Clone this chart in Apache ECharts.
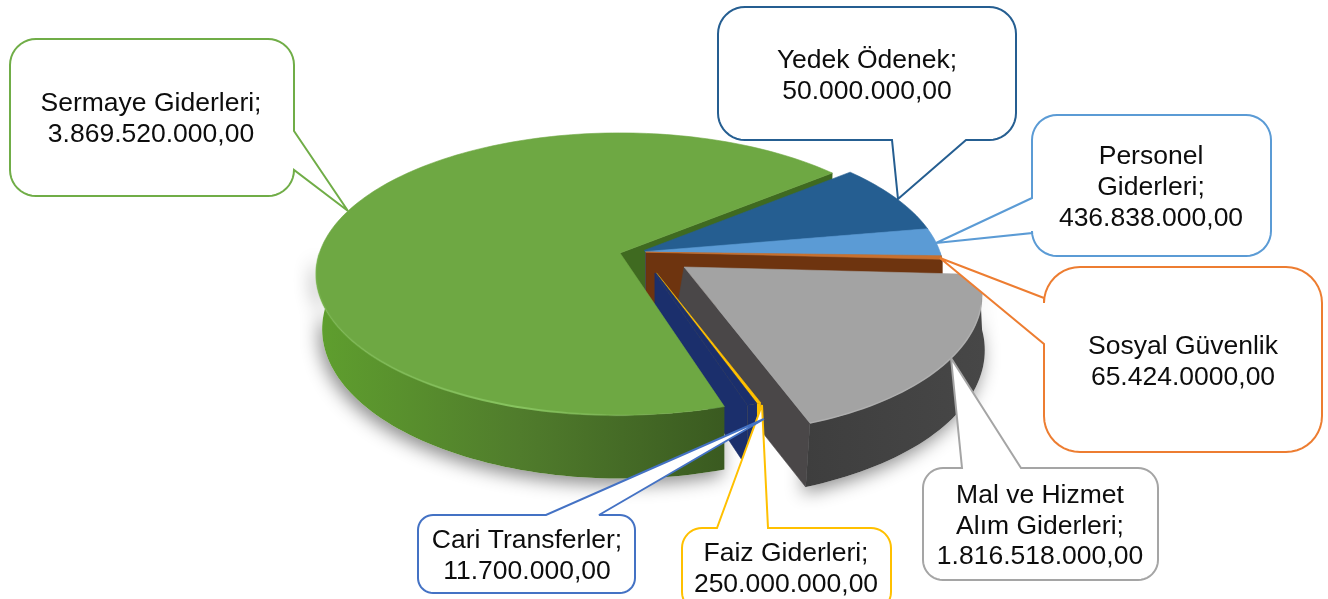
<!DOCTYPE html>
<html>
<head>
<meta charset="utf-8">
<style>html,body{margin:0;padding:0;background:#fff}#c{width:1328px;height:599px}</style>
<script src="https://cdn.jsdelivr.net/npm/echarts@6/dist/echarts.min.js"></script>
</head>
<body>
<div id="c"></div>
<script>
// Slices in clockwise drawing order
const categories = ['Yedek Ödenek','Personel Giderleri','Sosyal Güvenlik','Mal ve Hizmet Alım Giderleri','Faiz Giderleri','Cari Transferler','Sermaye Giderleri'];
// Share of the pie (%)
const sliceShares = [8.17, 3.19, 0.42, 18.69, 0.19, 0.47, 68.87];
// Amounts as printed in the callouts
const printedValues = ['50.000.000,00','436.838.000,00','65.424.0000,00','1.816.518.000,00','250.000.000,00','11.700.000,00','3.869.520.000,00'];

const topColors  = ['#255e91','#5b9bd5','#c8702e','#a3a3a3','#ffc000','#1b2f6c','#6ea843'];
const faceColors = ['#1d4a72','#3f78ad','#6e340f','#4a4748','#ffc000','#1b2f6c','#3f6a20'];
const wallStops  = [
  ['#1d4a72','#1d4a72'],['#3f78ad','#3f78ad'],['#6e340f','#6e340f'],
  ['#3e3e3e','#474747'],['#ffc000','#ffc000'],['#1b2f6c','#1b2f6c'],
  ['#5f9f2e','#507c2c','#3a5a20']
];
const lineColors = ['#255e91','#5b9bd5','#ed7d31','#a5a5a5','#ffc000','#4472c4','#70ad47'];

const START = 50.6, CX = 620, CY = 253, RX = 300.6, RY = 138, PERSP = 0.149, DEPTH = 54;
const explode = [[.066,-.007],[.066,-.007],[.066,-.007],[.21,.1],[.066,-.007],[.066,-.007],[0,0]];
const rimK    = [1,1,1,.96,1,1,1];
// the extruded lower rim is slightly re-scaled about an anchor per slice: [anchor, factor]
const lowerRim = [[640,1],[640,1],[640,1],[915,1.04],[640,1],[640,1],[725,.985]];
// near the centre the thin front slices are hidden behind the neighbours
const apexCut = [.02,.02,.02,0,.14,.14,0];
const total = sliceShares.reduce((a,b)=>a+b,0);

function proj(u,v){ const d = 1-PERSP*v; return {x:CX+RX*u/d, y:CY+RY*v/d, d}; }
function topPt(i,deg){
  const t = deg*Math.PI/180, e = explode[i];
  const p = proj(e[0]+rimK[i]*Math.sin(t), e[1]-Math.cos(t));
  return [p.x,p.y];
}
function apex(i){ const p = proj(explode[i][0],explode[i][1]); return [p.x,p.y]; }
function drop(i,pt,v){ const L = lowerRim[i]; return [L[0]+(pt[0]-L[0])*L[1], pt[1]+DEPTH/(1-PERSP*v)]; }
function lowPt(i,deg){
  const t = deg*Math.PI/180;
  return drop(i,topPt(i,deg),explode[i][1]-Math.cos(t));
}
function lerp(p,q,f){ return [p[0]+(q[0]-p[0])*f,p[1]+(q[1]-p[1])*f]; }
function sweep(a,b){ const n = Math.max(2,Math.ceil((b-a)/1.5)); const r=[]; for(let k=0;k<=n;k++) r.push(a+(b-a)*k/n); return r; }

function renderSlice(params, api){
  const i = params.dataIndex;
  const share = api.value(0);
  let before = 0; for(let k=0;k<i;k++) before += sliceShares[k];
  const a = START + before/total*360, b = a + share/total*360;
  const isGreen = i === 6;
  const base = isGreen ? 200 : 10+i*10;
  const kids = [];
  const rim = sweep(a,b);
  const A = apex(i);
  const end = topPt(i,b);
  const A2 = lerp(A,end,apexCut[i]);
  const lowA = drop(i,A,explode[i][1]);
  const lowA2 = lerp(lowA,lowPt(i,b),apexCut[i]);
  // radial end face, it looks at the viewer for every slice here
  kids.push({type:'polygon', z2:isGreen?5:base,
    shape:{points:[A2,end,lowPt(i,b),lowA2]},
    style:{fill:faceColors[i],stroke:faceColors[i],lineWidth:.6}});
  // outer wall, front half only
  const frontA = Math.max(a,90), frontB = Math.min(b,270);
  if (frontB > frontA) {
    const deg = sweep(frontA,frontB);
    const pts = deg.map(d=>topPt(i,d)).concat(deg.slice().reverse().map(d=>lowPt(i,d)));
    const st = wallStops[i];
    // gradient runs in screen x
    kids.push({type:'polygon', z2:base+1, shape:{points:pts},
      style:{fill:{type:'linear',x:0,y:0,x2:1,y2:0,
        colorStops:st.map((c,j)=>({offset:j/(st.length-1),color:c}))}}});
    if (isGreen || i === 3) {
      kids.push({type:'polygon', z2:1, shape:{points:pts},
        style:{fill:'#fff',shadowBlur:18,shadowColor:'rgba(0,0,0,0.45)',shadowOffsetX:-3,shadowOffsetY:6}});
    }
  }
  // top surface
  const topPts = [lerp(A,topPt(i,a),apexCut[i])].concat(rim.map(d=>topPt(i,d)),[A2]);
  kids.push({type:'polygon', z2:base+2, shape:{points:topPts},
    style:{fill:topColors[i], stroke:topColors[i], lineWidth:0.6}});
  // lit bevel along the front rim
  if (isGreen || i === 3) {
    const hi = sweep(Math.max(frontA,isGreen?175:105),frontB).map(d=>topPt(i,d));
    kids.push({type:'polyline', z2:base+3, shape:{points:hi},
      style:{fill:null,lineWidth:isGreen?2:1.5,stroke:{type:'linear',x:0,y:0,x2:1,y2:0,colorStops: isGreen
        ? [{offset:0,color:'rgba(135,196,95,0.25)'},{offset:.6,color:'rgba(135,196,95,1)'},{offset:1,color:'rgba(135,196,95,0)'}]
        : [{offset:0,color:'rgba(178,178,178,.8)'},{offset:1,color:'rgba(178,178,178,.8)'}]}}});
  }
  return {type:'group', children:kids};
}

// Callout outlines: box [left, top, right, bottom], radius, pointer [side, a, tipX, tipY, b]
const calloutLayout = [
  {box:[718,7,1016,140],  r:27, ptr:['bottom',892,898,199,966], lines:['Yedek Ödenek;'], cx:867, y:[61,92]},
  {box:[1032,115,1271,256],r:25, ptr:['left',198,936,243,233], lines:['Personel','Giderleri;'], cx:1151, y:[157,188,219]},
  {box:[1044,267,1322,452],r:36, ptr:['left',298,940,258,344], lines:['Sosyal Güvenlik'], cx:1183, y:[347,378]},
  {box:[923,468,1158,580],r:20, ptr:['top',962,951,358,1021], lines:['Mal ve Hizmet','Alım Giderleri;'], cx:1040, y:[496,527,557]},
  {box:[682,528,891,612], r:20, ptr:['top',717,762,405,768], lines:['Faiz Giderleri;'], cx:786, y:[554,585]},
  {box:[418,515,635,593], r:15, ptr:['top',546,764,419,599], lines:['Cari Transferler;'], cx:527, y:[541,572]},
  {box:[10,39,294,196],   r:26, ptr:['right',131,348,211,170], lines:['Sermaye Giderleri;'], cx:151, y:[104,135]}
];

function corner(cx,cy,r,a0){
  const out=[]; for(let k=0;k<=10;k++){const t=(a0+90*k/10)*Math.PI/180; out.push([cx+r*Math.cos(t),cy+r*Math.sin(t)]);} return out;
}
function outline(c){
  const [l,t,rr,b]=c.box, r=c.r, p=c.ptr, pts=[];
  pts.push(...corner(l+r,t+r,r,180));
  if(p[0]==='top') pts.push([p[1],t],[p[2],p[3]],[p[4],t]);
  pts.push(...corner(rr-r,t+r,r,270));
  if(p[0]==='right') pts.push([rr,p[1]],[p[2],p[3]],[rr,p[4]]);
  pts.push(...corner(rr-r,b-r,r,0));
  if(p[0]==='bottom') pts.push([p[4],b],[p[2],p[3]],[p[1],b]);
  pts.push(...corner(l+r,b-r,r,90));
  if(p[0]==='left') pts.push([l,p[4]],[p[2],p[3]],[l,p[1]]);
  return pts;
}
const graphics = [];
calloutLayout.forEach((c,i)=>{
  graphics.push({type:'polygon', z:10, shape:{points:outline(c)},
    style:{fill:'#fff',stroke:lineColors[i],lineWidth:2,lineJoin:'miter',miterLimit:3}});
  c.lines.concat([printedValues[i]]).forEach((txt,j)=>{
    graphics.push({type:'text', z:11, style:{text:txt,x:c.cx,y:c.y[j],align:'center',verticalAlign:'middle',
      font:'26.5px "Liberation Sans", Arial, sans-serif',fill:'#0d0d0d'}});
  });
});

const chart = echarts.init(document.getElementById('c'),null,{renderer:'canvas'});
chart.setOption({
  animation:false,
  backgroundColor:'#ffffff',
  graphic:{elements:graphics},
  series:[{
    type:'custom', coordinateSystem:'none', silent:true, clip:false,
    renderItem:renderSlice,
    data:sliceShares.map((s,i)=>({name:categories[i],value:[s]}))
  }]
});
</script>
</body>
</html>
